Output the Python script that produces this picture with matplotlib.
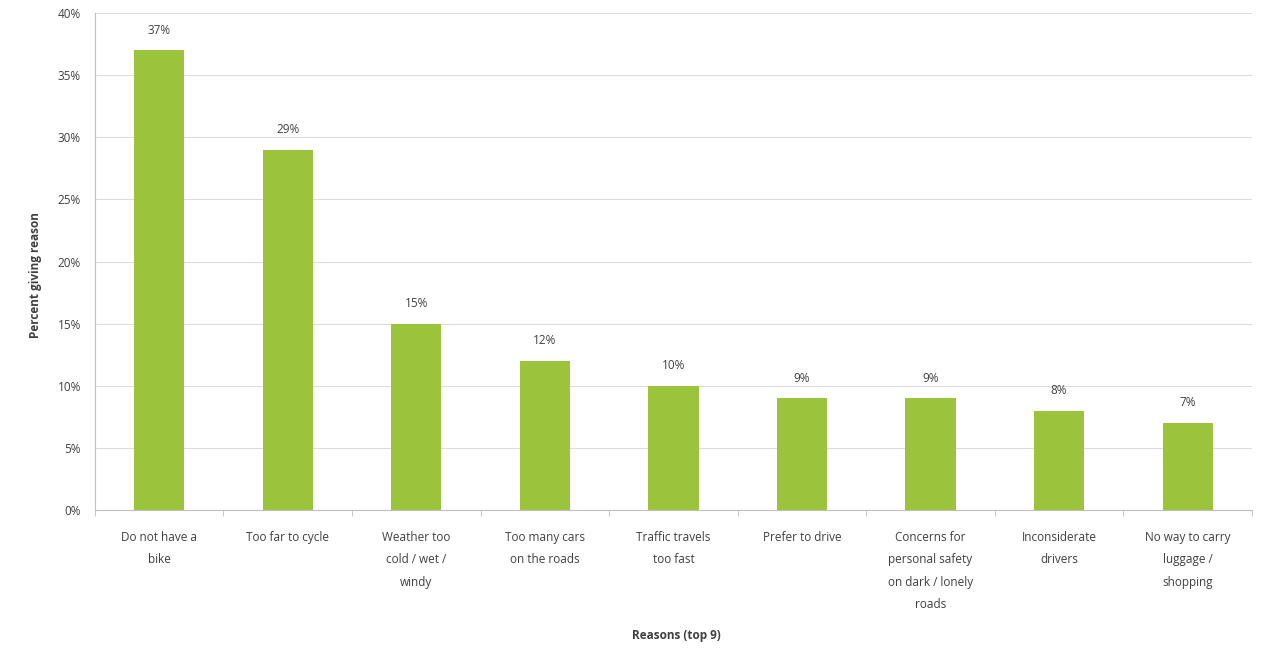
import matplotlib
matplotlib.use("Agg")
import matplotlib.pyplot as plt
import numpy as np
from matplotlib.ticker import FixedLocator

categories = [
    "Do not have a\nbike",
    "Too far to cycle",
    "Weather too\ncold / wet /\nwindy",
    "Too many cars\non the roads",
    "Traffic travels\ntoo fast",
    "Prefer to drive",
    "Concerns for\npersonal safety\non dark / lonely\nroads",
    "Inconsiderate\ndrivers",
    "No way to carry\nluggage /\nshopping",
]
values = [37, 29, 15, 12, 10, 9, 9, 8, 7]
yticks = [0, 5, 10, 15, 20, 25, 30, 35, 40]

plt.rcParams['font.family'] = ['Open Sans', 'DejaVu Sans']
txt = '#404040'

W, H = 1271, 651
fig = plt.figure(figsize=(W / 100, H / 100), dpi=100)
ax = fig.add_axes([0.0747, 0.2166, 0.9103, 0.7634])

x = np.arange(len(categories))
ax.bar(x, values, width=0.39, color='#9BC43C', zorder=3)
for xi, v in zip(x, values):
    ax.text(xi, v + 1.1, f"{v}%", ha='center', va='bottom', fontsize=8.5, color=txt)

ax.set_xlim(-0.5, len(categories) - 0.5)
ax.set_ylim(0, 40)
ax.set_yticks(yticks)
ax.set_yticklabels([f"{t}%" for t in yticks], fontsize=8.5, color=txt)
ax.yaxis.grid(True, color='#dcdcdc', linewidth=0.8, zorder=0)
ax.set_xticks(x)
ax.set_xticklabels(categories, fontsize=8.5, color=txt, linespacing=1.95, va='top')
ax.tick_params(axis='x', length=0, pad=15)
ax.tick_params(axis='y', length=0, pad=10)
ax.xaxis.set_minor_locator(FixedLocator(np.arange(len(categories) + 1) - 0.5))
ax.tick_params(axis='x', which='minor', length=4, color='#bfbfbf', direction='out')

for s in ['top', 'right']:
    ax.spines[s].set_visible(False)
for s in ['left', 'bottom']:
    ax.spines[s].set_color('#bfbfbf')
    ax.spines[s].set_linewidth(0.8)

fig.text(35 / W, 1 - 275 / H, "Percent giving reason", rotation=90, ha='center', va='center',
         fontsize=8.5, color=txt, fontweight='bold')
fig.text(676 / W, 1 - 635 / H, "Reasons (top 9)", ha='center', va='center',
         fontsize=8.5, color=txt, fontweight='bold')

fig.savefig("out.png", dpi=100, facecolor='white')
